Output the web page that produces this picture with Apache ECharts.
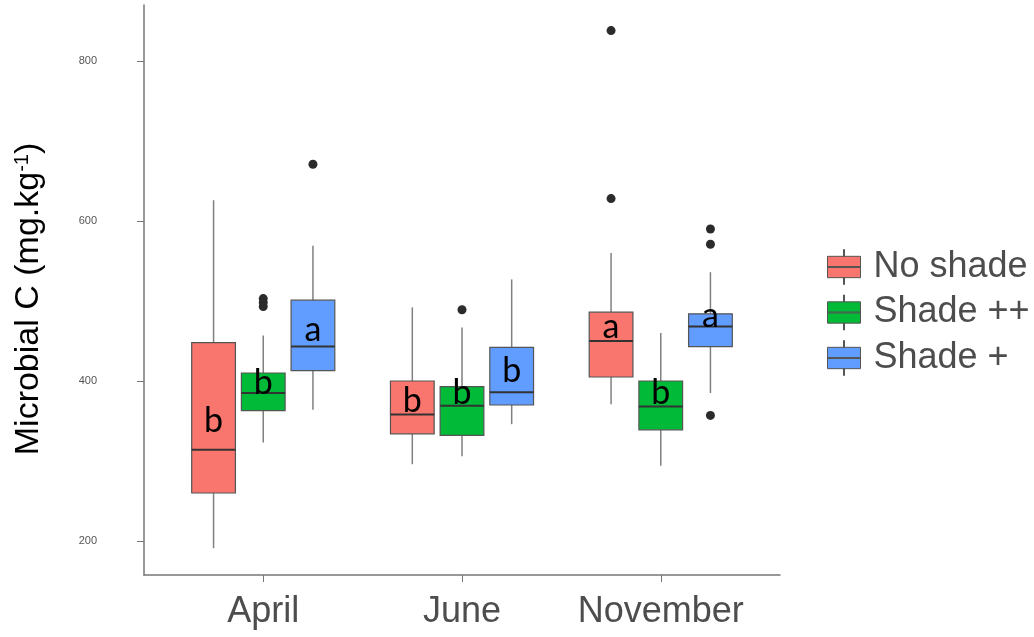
<!DOCTYPE html>
<html>
<head>
<meta charset="utf-8">
<script src="https://cdn.jsdelivr.net/npm/echarts@6/dist/echarts.min.js"></script>
<style>
html,body{margin:0;padding:0;background:#fff;}
#chart{width:1034px;height:637px;}
</style>
</head>
<body>
<div id="chart"></div>
<script>
// ---- data ----
const months = ['April', 'June', 'November'];
const groups = ['No shade', 'Shade ++', 'Shade +'];
const yTicks = [200, 400, 600, 800];

// [lower whisker, Q1, median, Q3, upper whisker] per month
const noShadeStats = [
  [191, 260, 314, 448, 626],
  [296, 334, 358, 400, 492],
  [371, 405, 450, 486, 560]
];
const shadePlusPlusStats = [
  [323, 363, 385, 410, 457],
  [306, 332, 369, 393, 467],
  [294, 339, 368, 400, 460]
];
const shadePlusStats = [
  [364, 413, 443, 501, 569],
  [346, 370, 386, 442, 527],
  [385, 443, 468, 484, 536]
];

// outliers per month
const noShadeOutliers = [[], [], [838, 628]];
const shadePlusPlusOutliers = [[493, 498, 503], [489], []];
const shadePlusOutliers = [[671], [], [590, 571, 357]];

// significance letters and the value level they sit at
const noShadeLetters = ['b', 'b', 'a'];
const shadePlusPlusLetters = ['b', 'b', 'b'];
const shadePlusLetters = ['a', 'b', 'a'];
const noShadeLetterAt = [350, 375, 468];
const shadePlusPlusLetterAt = [398, 385, 385];
const shadePlusLetterAt = [464, 413, 481];

// ---- chart ----
const colors = ['#F8766D', '#00BA38', '#619CFF'];
const statsByGroup = [noShadeStats, shadePlusPlusStats, shadePlusStats];
const outliersByGroup = [noShadeOutliers, shadePlusPlusOutliers, shadePlusOutliers];
const lettersByGroup = [noShadeLetters, shadePlusPlusLetters, shadePlusLetters];
const letterAtByGroup = [noShadeLetterAt, shadePlusPlusLetterAt, shadePlusLetterAt];
const dodge = [-0.25, 0, 0.25];
const boxWidth = 0.22;

const legendIcon = 'path://M0,7L34,7L34,29L0,29Z M0,17.5L34,17.5L34,18.5L0,18.5Z M16.5,0L17.5,0L17.5,7L16.5,7Z M16.5,29L17.5,29L17.5,36L16.5,36Z';

const series = [];
groups.forEach(function (g, gi) {
  const data = statsByGroup[gi].map(function (s, mi) {
    return [mi + 1 + dodge[gi], s[0], s[1], s[2], s[3], s[4], letterAtByGroup[gi][mi]];
  });
  series.push({
    name: g,
    type: 'custom',
    itemStyle: { color: colors[gi] },
    z: 2,
    encode: { x: 0, y: [1, 2, 3, 4, 5] },
    renderItem: function (params, api) {
      const x = api.value(0);
      const pLow = api.coord([x, api.value(1)]);
      const pQ1 = api.coord([x, api.value(2)]);
      const pMed = api.coord([x, api.value(3)]);
      const pQ3 = api.coord([x, api.value(4)]);
      const pHigh = api.coord([x, api.value(5)]);
      const pLetter = api.coord([x, api.value(6)]);
      const half = api.size([boxWidth, 0])[0] / 2;
      const cx = pMed[0];
      return {
        type: 'group',
        children: [
          { type: 'line', shape: { x1: cx, y1: pHigh[1], x2: cx, y2: pQ3[1] }, style: { stroke: '#808080', lineWidth: 1.5 } },
          { type: 'line', shape: { x1: cx, y1: pQ1[1], x2: cx, y2: pLow[1] }, style: { stroke: '#808080', lineWidth: 1.5 } },
          { type: 'rect', shape: { x: cx - half, y: pQ3[1], width: half * 2, height: pQ1[1] - pQ3[1] },
            style: { fill: colors[gi], stroke: '#555', lineWidth: 1.2 } },
          { type: 'line', shape: { x1: cx - half, y1: pMed[1], x2: cx + half, y2: pMed[1] }, style: { stroke: '#333', lineWidth: 2 } },
          { type: 'text', x: cx, y: pLetter[1], z2: 10,
            style: { text: lettersByGroup[gi][params.dataIndex], fill: '#000', fontSize: 34, fontFamily: 'Lato, "Open Sans", sans-serif',
              align: 'center', verticalAlign: 'middle' } }
        ]
      };
    },
    data: data
  });
  const outData = [];
  outliersByGroup[gi].forEach(function (list, mi) {
    list.forEach(function (v) { outData.push([mi + 1 + dodge[gi], v]); });
  });
  series.push({
    name: g + ' outliers',
    type: 'scatter',
    symbolSize: 9,
    itemStyle: { color: '#2b2b2b', opacity: 1 },
    z: 3,
    data: outData
  });
});

const chart = echarts.init(document.getElementById('chart'), null, { renderer: 'canvas' });
chart.setOption({
  animation: false,
  backgroundColor: '#fff',
  grid: { left: 144, right: 254, top: 5, bottom: 62, containLabel: false },
  legend: {
    data: groups.map(function (g) { return { name: g, icon: legendIcon }; }),
    orient: 'vertical',
    left: 827,
    top: 249,
    padding: 0,
    itemWidth: 33,
    itemHeight: 36,
    itemGap: 9.5,
    itemStyle: { borderColor: '#555', borderWidth: 1 },
    textStyle: { fontSize: 36, color: '#4d4d4d', fontFamily: '"Liberation Sans", Arial, sans-serif', padding: [0, 0, 0, 8] }
  },
  xAxis: {
    type: 'value',
    min: 0.4,
    max: 3.6,
    splitLine: { show: false },
    axisLine: { lineStyle: { color: '#777', width: 1.5 } },
    axisTick: { customValues: [1, 2, 3], length: 7, lineStyle: { color: '#777', width: 1 } },
    axisLabel: {
      customValues: [1, 2, 3],
      formatter: function (v) { return months[Math.round(v) - 1]; },
      fontSize: 36, color: '#4d4d4d', margin: 19,
      fontFamily: '"Liberation Sans", Arial, sans-serif'
    }
  },
  yAxis: {
    type: 'value',
    min: 157.5,
    max: 870,
    splitLine: { show: false },
    axisLine: { show: true, lineStyle: { color: '#777', width: 1.5 } },
    axisTick: { show: true, customValues: yTicks, length: 7, lineStyle: { color: '#777', width: 1 } },
    axisLabel: {
      customValues: yTicks,
      fontSize: 11, color: '#555', margin: 47,
      fontFamily: '"Liberation Sans", Arial, sans-serif'
    },
    name: '{a|Microbial C (mg.kg}{s|-1}{a|)}',
    nameLocation: 'middle',
    nameGap: 98,
    nameTextStyle: {
      padding: [0, 18, 0, 0],
      rich: {
        a: { fontSize: 34, color: '#000', fontFamily: '"Liberation Sans", Arial, sans-serif' },
        s: { fontSize: 20, color: '#000', fontFamily: '"Liberation Sans", Arial, sans-serif', verticalAlign: 'top' }
      }
    }
  },
  series: series
});
</script>
</body>
</html>
